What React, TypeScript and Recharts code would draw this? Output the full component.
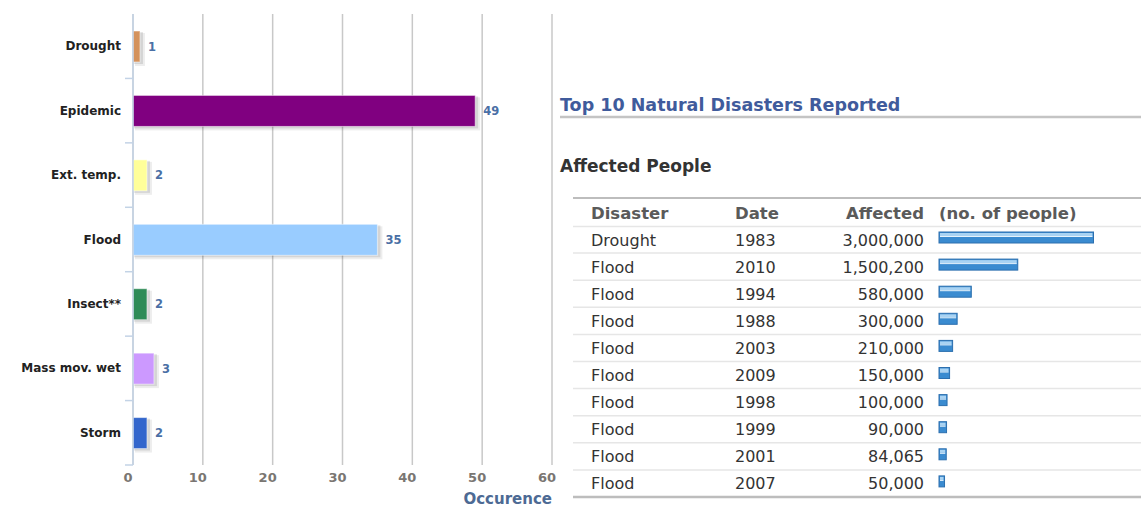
import React from 'react';
import { BarChart, Bar, XAxis, YAxis, CartesianGrid, LabelList, Cell } from 'recharts';

// left chart: occurrence by disaster type
const disasterTypes = ['Drought', 'Epidemic', 'Ext. temp.', 'Flood', 'Insect**', 'Mass mov. wet', 'Storm'];
const occurrences = [1, 49, 2, 35, 2, 3, 2];
const typeColors = ['#d4925c', '#800080', '#ffff99', '#99ccff', '#2e8b57', '#cc99ff', '#3366cc'];
const occurrenceTicks = [0, 10, 20, 30, 40, 50, 60];

// right table: top 10 by affected people
const topDisasters = ['Drought', 'Flood', 'Flood', 'Flood', 'Flood', 'Flood', 'Flood', 'Flood', 'Flood', 'Flood'];
const topDates = ['1983', '2010', '1994', '1988', '2003', '2009', '1998', '1999', '2001', '2007'];
const topAffected = [3000000, 1500200, 580000, 300000, 210000, 150000, 100000, 90000, 84065, 50000];

const occData = disasterTypes.map((name, i) => ({ name, value: occurrences[i] }));
const rankData = topDisasters.map((disaster, i) => ({
  key: String(i),
  disaster,
  date: topDates[i],
  affected: topAffected[i],
}));

const FONT = '"DejaVu Sans", Verdana, sans-serif';

const LEFT_H = 509;
const LEFT_TOP = 14;
const LEFT_XAXIS_H = 44;
const leftBand = (LEFT_H - LEFT_TOP - LEFT_XAXIS_H) / disasterTypes.length;

const RIGHT_TOP = 226;
const RIGHT_BOTTOM = 12;
const rightBand = (LEFT_H - RIGHT_TOP - RIGHT_BOTTOM) / rankData.length;

const ShadowBar = (p: any) => {
  const { x, y, width, height, fill } = p;
  return (
    <g>
      <rect x={x + 2} y={y + 2} width={width + 3} height={height + 2} fill="#000" fillOpacity={0.07} />
      <rect x={x + 1} y={y + 1} width={width + 2} height={height + 1} fill="#000" fillOpacity={0.1} />
      <rect x={x} y={y} width={width} height={height} fill={fill} stroke="#ffffff" strokeOpacity={0.5} strokeWidth={1} />
    </g>
  );
};

const CategoryTick = (p: any) => {
  const { x, y, payload } = p;
  return (
    <g>
      <text x={x} y={y} dy={4} textAnchor="end" fontFamily={FONT} fontSize={12} fontWeight="bold" fill="#222">
        {payload.value}
      </text>
      <line x1={x + 4} x2={x + 12} y1={y + leftBand / 2} y2={y + leftBand / 2} stroke="#c3d3e6" strokeWidth={1.5} />
    </g>
  );
};

const NumberTick = (p: any) => {
  const { x, y, payload } = p;
  return (
    <text x={x - 5} y={y} dy={9} textAnchor="middle" fontFamily={FONT} fontSize={13} fontWeight="bold" fill="#7a7672">
      {payload.value}
    </text>
  );
};

const RowTick = (p: any) => {
  const { y, payload } = p;
  const i = Number(payload.value);
  const row = rankData[i];
  const last = i === rankData.length - 1;
  return (
    <g fontFamily={FONT} fontSize={16} fill="#333">
      <text x={18} y={y} dy={6}>{row.disaster}</text>
      <text x={162} y={y} dy={6}>{row.date}</text>
      <text x={351} y={y} dy={6} textAnchor="end">{row.affected.toLocaleString('en-US')}</text>
      <line
        x1={0}
        x2={568}
        y1={y + rightBand / 2}
        y2={y + rightBand / 2}
        stroke={last ? '#bdbdbd' : '#e6e6e6'}
        strokeWidth={last ? 2.5 : 1.5}
      />
    </g>
  );
};

const GlossBar = (p: any) => {
  const { x, y, width, height } = p;
  const w = width + 3;
  const top = y - 2;
  return (
    <g>
      <rect x={x} y={top} width={w} height={height} fill="#3a8bd0" stroke="#2c6fae" strokeWidth={1} />
      <rect x={x + 1} y={top + 1} width={w - 2} height={3} fill="#a9d3f3" />
      <rect x={x + 1} y={top + 4} width={w - 2} height={1} fill="#e6f3fc" />
    </g>
  );
};

export default function App() {
  return (
    <div style={{ position: 'absolute', left: 0, top: 0, width: 1141, height: 509, background: '#fff' }}>
      <div style={{ position: 'absolute', left: 0, top: 0 }}>
        <BarChart
          width={560}
          height={LEFT_H}
          data={occData}
          layout="vertical"
          margin={{ top: LEFT_TOP, right: 8, bottom: 0, left: 0 }}
          barSize={31}
        >
          <CartesianGrid horizontal={false} stroke="#c8c8c8" strokeWidth={1.5} />
          <XAxis
            type="number"
            domain={[0, 60]}
            ticks={occurrenceTicks}
            axisLine={false}
            tickLine={false}
            height={LEFT_XAXIS_H}
            tick={<NumberTick />}
            label={{
              content: (lp: any) => {
                const vb = lp.viewBox;
                return (
                  <text
                    x={vb.x + vb.width}
                    y={vb.y + vb.height - 5}
                    textAnchor="end"
                    fontFamily={FONT}
                    fontSize={15}
                    fontWeight="bold"
                    fill="#4d6a94"
                  >
                    Occurence
                  </text>
                );
              },
            }}
          />
          <YAxis
            type="category"
            dataKey="name"
            width={133}
            axisLine={{ stroke: '#c3d3e6', strokeWidth: 1.5 }}
            tickLine={false}
            tickSize={8}
            tickMargin={4}
            interval={0}
            tick={<CategoryTick />}
          />
          <Bar dataKey="value" shape={<ShadowBar />} isAnimationActive={false}>
            {occData.map((d, i) => (
              <Cell key={d.name} fill={typeColors[i]} />
            ))}
            <LabelList
              dataKey="value"
              position="right"
              offset={8}
              fill="#4a6fa5"
              fontSize={11.5}
              fontWeight="bold"
              fontFamily={FONT}
            />
          </Bar>
        </BarChart>
      </div>

      <svg width={1141} height={509} style={{ position: 'absolute', left: 0, top: 0, pointerEvents: 'none' }}>
        <text x={560} y={111} fontFamily={FONT} fontSize={17.5} fontWeight="bold" fill="#3f5b9c">
          Top 10 Natural Disasters Reported
        </text>
        <line x1={560} x2={1141} y1={117} y2={117} stroke="#c4c4c4" strokeWidth={2.5} />
        <text x={560} y={172} fontFamily={FONT} fontSize={17} fontWeight="bold" fill="#333">
          Affected People
        </text>
        <line x1={573} x2={1141} y1={198} y2={198} stroke="#bdbdbd" strokeWidth={2} />
        <g fontFamily={FONT} fontSize={16.5} fontWeight="bold" fill="#5a5a5a">
          <text x={591} y={219}>Disaster</text>
          <text x={735} y={219}>Date</text>
          <text x={924} y={219} textAnchor="end">Affected</text>
          <text x={939} y={219}>(no. of people)</text>
        </g>
        <line x1={573} x2={1141} y1={226.5} y2={226.5} stroke="#e6e6e6" strokeWidth={1.5} />
      </svg>

      <div style={{ position: 'absolute', left: 573, top: 0 }}>
        <BarChart
          width={568}
          height={LEFT_H}
          data={rankData}
          layout="vertical"
          margin={{ top: RIGHT_TOP, right: 0, bottom: RIGHT_BOTTOM, left: 0 }}
          barSize={11}
        >
          <XAxis type="number" domain={[0, 4000000]} hide />
          <YAxis
            type="category"
            dataKey="key"
            width={366}
            axisLine={false}
            tickLine={false}
            interval={0}
            tick={<RowTick />}
          />
          <Bar dataKey="affected" shape={<GlossBar />} isAnimationActive={false} />
        </BarChart>
      </div>
    </div>
  );
}
